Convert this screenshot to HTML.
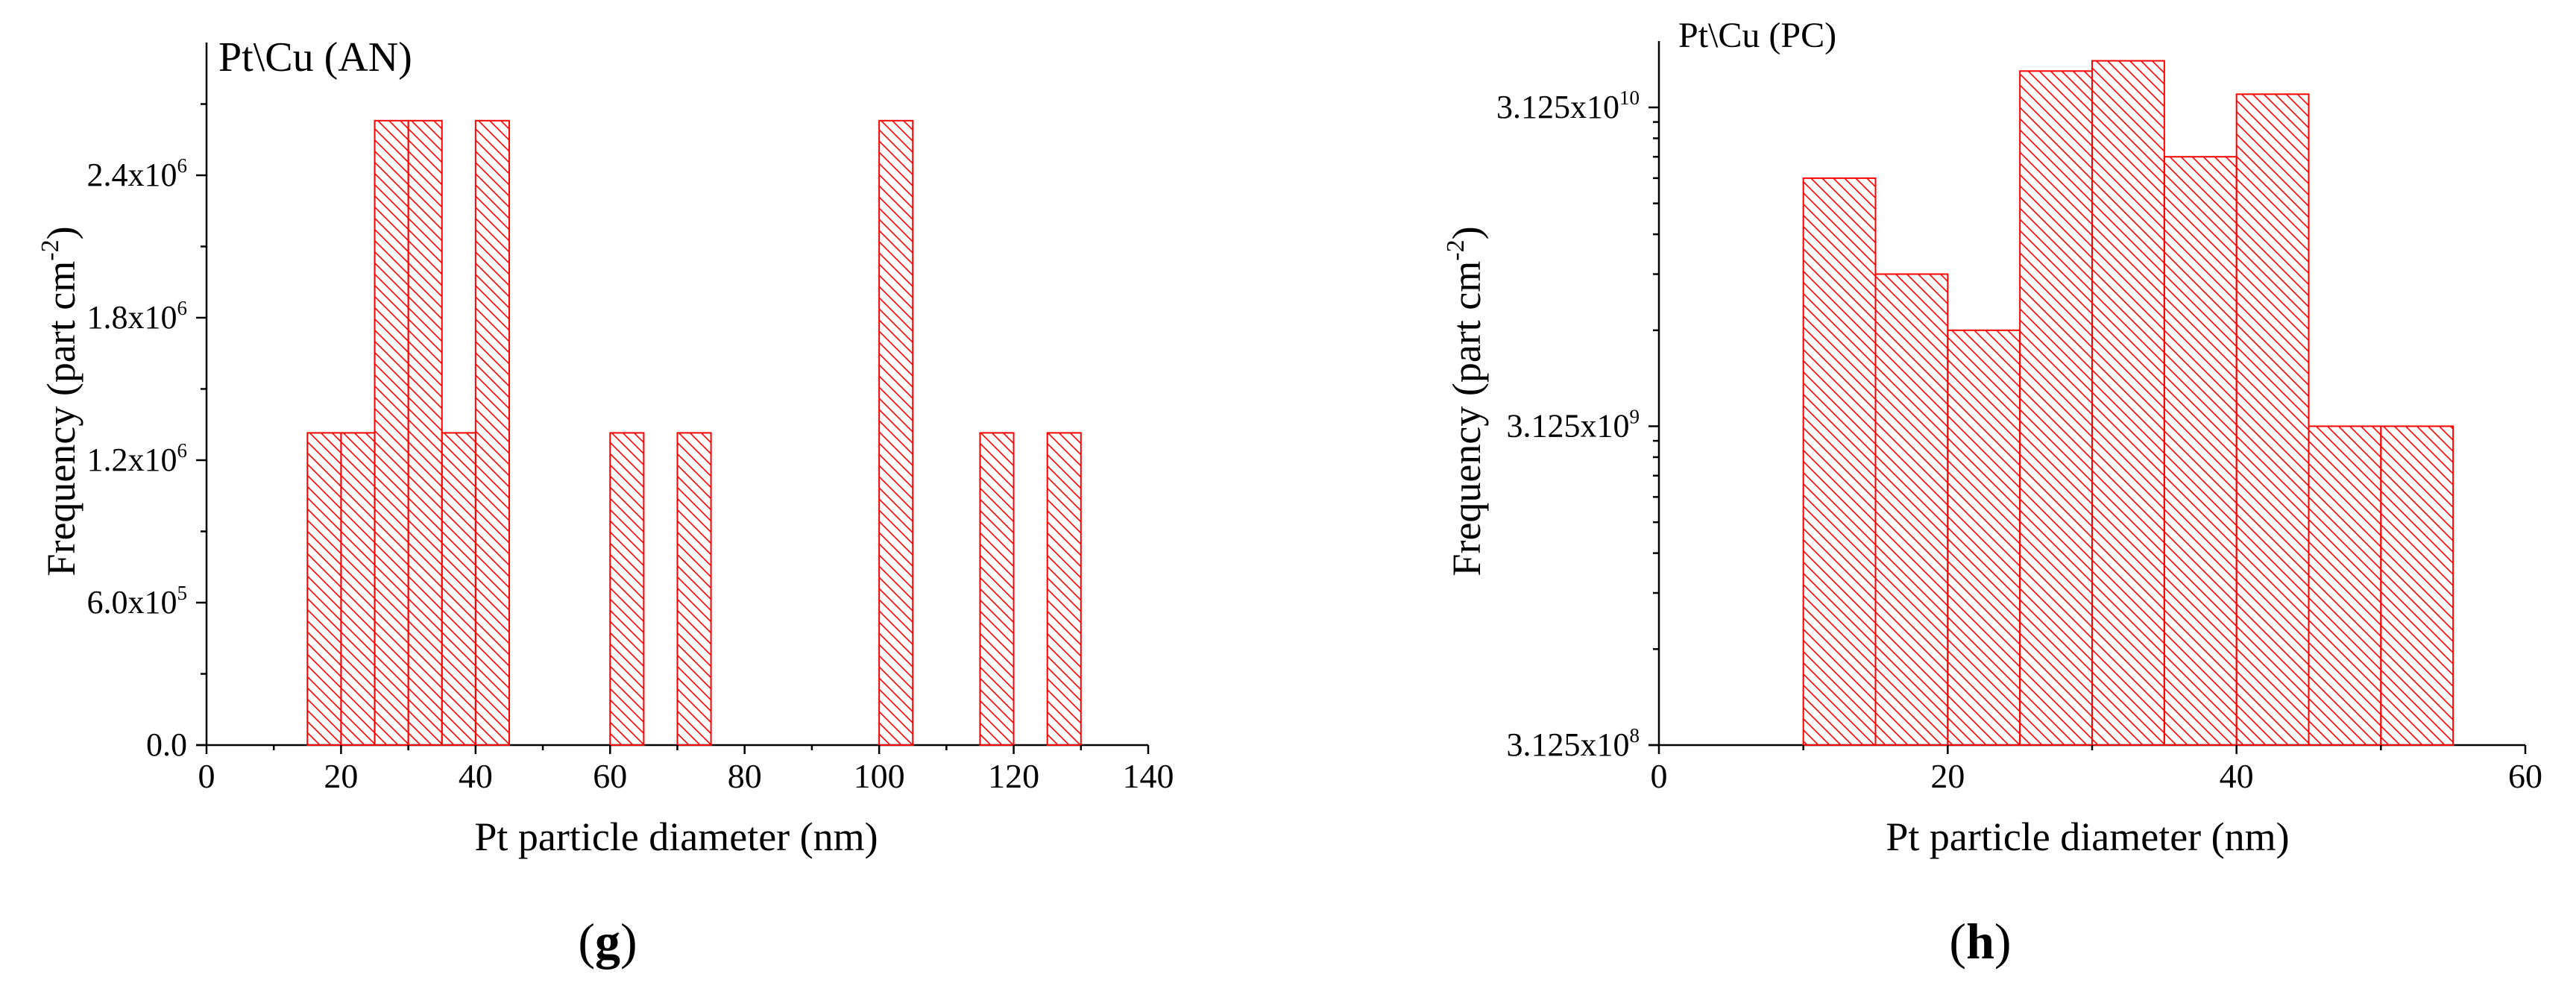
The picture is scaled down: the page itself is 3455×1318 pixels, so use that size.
<!DOCTYPE html>
<html><head><meta charset="utf-8"><style>
html,body{margin:0;padding:0;background:#fff;}
svg, svg text{font-family:"Liberation Serif","Times New Roman","DejaVu Serif",serif;}
svg{display:block;}
</style></head><body>
<svg id="root" width="3455" height="1318" viewBox="0 0 3455 1318" font-family="Liberation Serif, Times New Roman, DejaVu Serif, serif">
<defs>
<pattern id="hatch" patternUnits="userSpaceOnUse" width="15" height="15">
<line x1="-1" y1="-1" x2="16" y2="16" stroke="#ff0000" stroke-width="1.6"/>
<line x1="-8" y1="7" x2="1" y2="16" stroke="#ff0000" stroke-width="1.6"/>
<line x1="14" y1="-1" x2="23" y2="8" stroke="#ff0000" stroke-width="1.6"/>
</pattern>
</defs>
<g id="chartG"></g>
<g id="chartH"></g>
</svg>
<script>
// ---- Chart (g) data ----
const gBinStarts = [15,20,25,30,35,40,60,70,100,115,125];
const gBinWidth = 5;
const gValues = [1.315e6,1.315e6,2.63e6,2.63e6,1.315e6,2.63e6,1.315e6,1.315e6,2.63e6,1.315e6,1.315e6];
const gXTicks = [0,20,40,60,80,100,120,140];
const gYTicks = [0,6.0e5,1.2e6,1.8e6,2.4e6];
const gYTickMant = ["0.0","6.0x10","1.2x10","1.8x10","2.4x10"];
const gYTickExp = ["","5","6","6","6"];
// ---- Chart (h) data ----
const hBinStarts = [10,15,20,25,30,35,40,45,50];
const hBinWidth = 5;
const hValues = [1.875e10,9.375e9,6.25e9,4.0625e10,4.375e10,2.1875e10,3.4375e10,3.125e9,3.125e9];
const hXTicks = [0,20,40,60];
const hYTicks = [3.125e8,3.125e9,3.125e10];
const hYTickMant = ["3.125x10","3.125x10","3.125x10"];
const hYTickExp = ["8","9","10"];

const NS="http://www.w3.org/2000/svg";
const FF="Liberation Serif, Times New Roman, DejaVu Serif, serif";
function mk(parent,tag,attrs,text){const e=document.createElementNS(NS,tag);for(const k in attrs)e.setAttribute(k,attrs[k]);if(tag==='text')e.setAttribute('font-family',FF);if(text!==undefined)e.textContent=text;parent.appendChild(e);return e;}

const gx0=277,gx1=1540,gyb=999,gTop=57;
const gX=v=>gx0+(v-0)/(140-0)*(gx1-gx0);
const gY=v=>gyb-v/1.2e6*382;
const hx0=2225,hx1=3387,hyb=999,hTop=55;
const hX=v=>hx0+v/60*(hx1-hx0);
const hY=v=>hyb-Math.log10(v/3.125e8)*427.5;

function drawChart(g,X,Y,x0,x1,yb,top,starts,w,vals,xt,xminor,yt,ymant,yexp,yminor,titleText,titleX,titleY,titleSize,ylabX,xlabX,panel,panelX){
  mk(g,'line',{x1:x0,y1:yb,x2:x0,y2:top,stroke:'#000','stroke-width':2.5});
  mk(g,'line',{x1:x0-14,y1:yb,x2:x1,y2:yb,stroke:'#000','stroke-width':2.5});
  for(let i=0;i<starts.length;i++){
    const xa=X(starts[i]),xb=X(starts[i]+w),yv=Y(vals[i]);
    const r=mk(g,'rect',{x:xa,y:yv,width:xb-xa,height:yb-yv,fill:'url(#hatch)',stroke:'#ff0000','stroke-width':2});
    
    
  }
  xt.forEach(v=>{
    mk(g,'line',{x1:X(v),y1:yb,x2:X(v),y2:yb+12,stroke:'#000','stroke-width':2.5});
    const t=mk(g,'text',{x:X(v),y:yb+57,'font-size':46,'text-anchor':'middle'},String(v));
    
    
  });
  xminor.forEach(v=>mk(g,'line',{x1:X(v),y1:yb,x2:X(v),y2:yb+7,stroke:'#000','stroke-width':2.5}));
  yt.forEach((v,i)=>{
    mk(g,'line',{x1:x0-14,y1:Y(v),x2:x0,y2:Y(v),stroke:'#000','stroke-width':2.5});
    const t=mk(g,'text',{x:x0-26,y:Y(v)+14,'font-size':44,'text-anchor':'end'});
    
    
    mk(t,'tspan',{},ymant[i]);
    if(yexp[i]){mk(t,'tspan',{'font-size':27,dy:-18},yexp[i]);}
  });
  yminor.forEach(v=>mk(g,'line',{x1:x0-8,y1:Y(v),x2:x0,y2:Y(v),stroke:'#000','stroke-width':2.5}));
  const tt=mk(g,'text',{x:titleX,y:titleY,'font-size':titleSize},titleText);
  
  
  const yl=mk(g,'text',{x:0,y:0,'font-size':54,'text-anchor':'middle',transform:'translate('+(ylabX)+',538) rotate(-90)'});
  
  
  mk(yl,'tspan',{},'Frequency (part cm');
  mk(yl,'tspan',{'font-size':34,dy:-22},'-2');
  mk(yl,'tspan',{dy:22},')');
  const xl=mk(g,'text',{x:xlabX,y:1140,'font-size':54,'text-anchor':'middle'},'Pt particle diameter (nm)');
  
  
  const pl=mk(g,'text',{x:panelX,y:1285,'font-size':68,'text-anchor':'middle'});
  
  
  mk(pl,'tspan',{},'(');
  mk(pl,'tspan',{'font-weight':'bold'},panel);
  mk(pl,'tspan',{},')');
}

const gMinorY=[3e5,9e5,1.5e6,2.1e6,2.7e6];
drawChart(document.getElementById('chartG'),gX,gY,gx0,gx1,gyb,gTop,gBinStarts,gBinWidth,gValues,gXTicks,[10,30,50,70,90,110,130],gYTicks,gYTickMant,gYTickExp,gMinorY,'Pt\\Cu (AN)',293,95,56,100,907,'g',815);

const hMinorY=[];
[3.125e8,3.125e9].forEach(b=>{for(let k=2;k<=9;k++)hMinorY.push(b*k);});
drawChart(document.getElementById('chartH'),hX,hY,hx0,hx1,hyb,hTop,hBinStarts,hBinWidth,hValues,hXTicks,[10,30,50],hYTicks,hYTickMant,hYTickExp,hMinorY,'Pt\\Cu (PC)',2251,63,48,1985,2800,'h',2656);
</script>
</body></html>
